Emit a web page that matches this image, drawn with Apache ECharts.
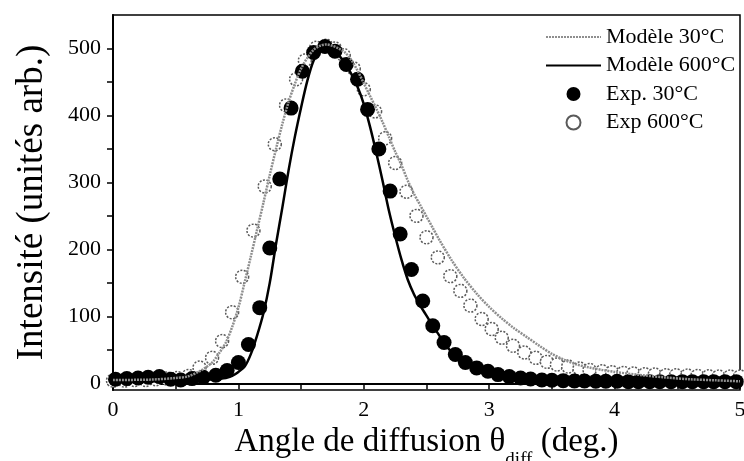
<!DOCTYPE html>
<html>
<head>
<meta charset="utf-8">
<script src="https://cdn.jsdelivr.net/npm/echarts@6/dist/echarts.min.js"></script>
<style>html,body{margin:0;padding:0;background:#fff}#c{width:744px;height:461px}</style>
</head>
<body>
<div id="c"></div>
<script>
// Modèle 30°C (gray curve)
const model30X = [0,0.3,0.5,0.6,0.7,0.75,0.8,0.85,0.9,0.95,1.0,1.05,1.1,1.15,1.2,1.25,1.3,1.35,1.4,1.45,1.5,1.55,1.6,1.65,1.7,1.75,1.8,1.85,1.9,1.95,2.0,2.05,2.1,2.15,2.2,2.25,2.3,2.35,2.4,2.45,2.5,2.55,2.6,2.7,2.8,2.9,3.0,3.1,3.2,3.3,3.4,3.5,3.6,3.7,3.8,3.9,4.0,4.2,4.4,4.6,4.8,5.0];
const model30Y = [5,5.5,8,10.5,19,25,33,46,61,84,113,151,190,230,270,311,350,387,420,447,470,486,498,504,506,504,500,494,483,467,448,429,410,390,368,346,326,303,283,266,249,232,215,184,157,134,114,97,82,69,56,44,35,28,23.5,20,17,12.5,8.8,6,4.5,3];
// Modèle 600°C (black curve)
const model600X = [0,0.3,0.6,0.8,0.9,0.95,1.0,1.05,1.1,1.15,1.2,1.25,1.3,1.35,1.4,1.45,1.5,1.55,1.6,1.65,1.7,1.75,1.8,1.85,1.9,1.95,2.0,2.05,2.1,2.15,2.2,2.25,2.3,2.35,2.4,2.45,2.5,2.55,2.6,2.65,2.7,2.8,2.9,3.0,3.1,3.2,3.3,3.4,3.5,3.7,4.0,4.5,5.0];
const model600Y = [3,3,4,6,8,11,17,25,44,72,105,150,208,262,318,368,412,452,482,497,501,498,490,478,462,443,417,383,344,302,258,220,185,155,133,116,101,86,72,58,47,33,24,17,13,10,7,5,4,2.5,2,1.5,1.5];
// Exp. 30°C (filled circles)
const exp30X = [0.02,0.11,0.2,0.28,0.37,0.46,0.54,0.63,0.72,0.82,0.91,1.00,1.08,1.17,1.25,1.33,1.42,1.51,1.60,1.69,1.77,1.86,1.95,2.03,2.12,2.21,2.29,2.38,2.47,2.55,2.64,2.73,2.81,2.90,2.99,3.07,3.16,3.25,3.33,3.42,3.50,3.59,3.68,3.76,3.85,3.93,4.02,4.11,4.19,4.28,4.36,4.45,4.54,4.62,4.71,4.79,4.88,4.97];
const exp30Y = [6,7,8,9,10,6,5,7,9,12,19,31,58,113,202,305,411,466,494,503,496,476,454,409,350,287,223,170,123,86,61,43,31,23,18,13,10,8,6.5,5,4.5,4,3.5,3.5,3,3,3,2.5,2.5,2.5,2.5,2.5,2.5,2.5,2.5,2.5,2.5,2.5];
// Exp 600°C (open circles)
const exp600X = [0.00,0.09,0.17,0.26,0.34,0.43,0.51,0.60,0.69,0.79,0.87,0.95,1.03,1.12,1.21,1.29,1.38,1.46,1.53,1.62,1.70,1.77,1.84,1.92,2.00,2.09,2.17,2.25,2.34,2.42,2.50,2.59,2.69,2.77,2.85,2.94,3.02,3.10,3.19,3.28,3.37,3.46,3.54,3.63,3.72,3.80,3.90,3.98,4.07,4.15,4.24,4.32,4.41,4.49,4.58,4.66,4.75,4.83,4.92,5.00];
const exp600Y = [4,4,5,5,6,7,8,11,23.5,38,63,106,159,228,294,357,415,454,482,501,504,500,490,470,439,406,366,329,286,250,218,188,160,138,116,96,81,68,56,46,38,32,28,25,22,20,18,16.5,15.5,14.5,13.5,13,12,12,11.5,11,10.5,10,10,10];
// ticks
const xTicks = [0,1,2,3,4,5];
const yLabelValues = [0,100,200,300,400,500];
const yTickValues = [0,50,100,150,200,250,300,350,400,450,500];

const pairs = (xs, ys) => xs.map((x, i) => [x, ys[i]]);
const FONT = "'Liberation Serif', 'DejaVu Serif', serif";
const hiddenSymbol = {color: 'rgba(0,0,0,0)', borderWidth: 0, borderColor: 'rgba(0,0,0,0)'};

const chart = echarts.init(document.getElementById('c'), null, {renderer: 'canvas'});
chart.setOption({
  animation: false,
  backgroundColor: '#fff',
  grid: {left: 113, right: 4, top: 15, bottom: 71, show: true, borderColor: '#000', borderWidth: 1.5, outerBoundsMode: 'none'},
  legend: {
    orient: 'vertical', left: 545, top: 26, padding: 0, itemWidth: 55, itemHeight: 14, itemGap: 6.5,
    textStyle: {fontFamily: FONT, fontSize: 22, color: '#000'},
    data: [
      {name: 'Modèle 30°C', itemStyle: hiddenSymbol},
      {name: 'Modèle 600°C', itemStyle: hiddenSymbol},
      {name: 'Exp. 30°C'},
      {name: 'Exp 600°C'}
    ]
  },
  xAxis: {
    type: 'value', min: 0, max: 5, interval: 0.5,
    axisLine: {lineStyle: {color: '#000', width: 2}},
    axisTick: {length: 6, lineStyle: {color: '#000', width: 1.5}},
    splitLine: {show: false},
    axisLabel: {
      fontFamily: FONT, fontSize: 22, color: '#000', margin: 9,
      formatter: v => (xTicks.indexOf(v) >= 0 ? String(v) : '')
    },
    name: '{a|Angle de diffusion θ}{sub|diff}{a| (deg.)}',
    nameLocation: 'middle', nameGap: 30,
    nameTextStyle: {
      rich: {
        a: {fontFamily: FONT, fontSize: 33, color: '#000', verticalAlign: 'top', lineHeight: 44},
        sub: {fontFamily: FONT, fontSize: 19, color: '#000', verticalAlign: 'bottom', lineHeight: 19}
      }
    }
  },
  yAxis: {
    type: 'value', min: -10, max: 550,
    axisLine: {lineStyle: {color: '#000', width: 2}},
    axisTick: {length: 6, customValues: yTickValues, lineStyle: {color: '#000', width: 1.5}},
    splitLine: {show: false},
    axisLabel: {fontFamily: FONT, fontSize: 22, color: '#000', margin: 12, customValues: yLabelValues},
    name: 'Intensité (unités arb.)',
    nameLocation: 'middle', nameGap: 62,
    nameTextStyle: {fontFamily: FONT, fontSize: 37, color: '#000'}
  },
  series: [
    {
      name: 'Exp 600°C', type: 'scatter', z: 1, symbol: 'circle', symbolSize: 13,
      itemStyle: {color: '#fff', borderColor: '#5a5a5a', borderWidth: 1.5, borderType: [2, 1.5], opacity: 1},
      data: pairs(exp600X, exp600Y)
    },
    {
      name: 'Exp. 30°C', type: 'scatter', z: 2, symbol: 'circle', symbolSize: 15,
      itemStyle: {color: '#000', opacity: 1},
      data: pairs(exp30X, exp30Y)
    },
    {
      name: 'Modèle 600°C', type: 'line', z: 3, showSymbol: false, symbol: 'none', smooth: 0.3,
      lineStyle: {color: '#000', width: 2.5},
      itemStyle: {color: '#000'},
      data: pairs(model600X, model600Y)
    },
    {
      name: 'Modèle 30°C', type: 'line', z: 4, showSymbol: false, symbol: 'none', smooth: 0.3,
      lineStyle: {color: '#8e8e8e', width: 2.5, type: [2, 1]},
      itemStyle: {color: '#8e8e8e'},
      data: pairs(model30X, model30Y)
    }
  ]
});
</script>
</body>
</html>
